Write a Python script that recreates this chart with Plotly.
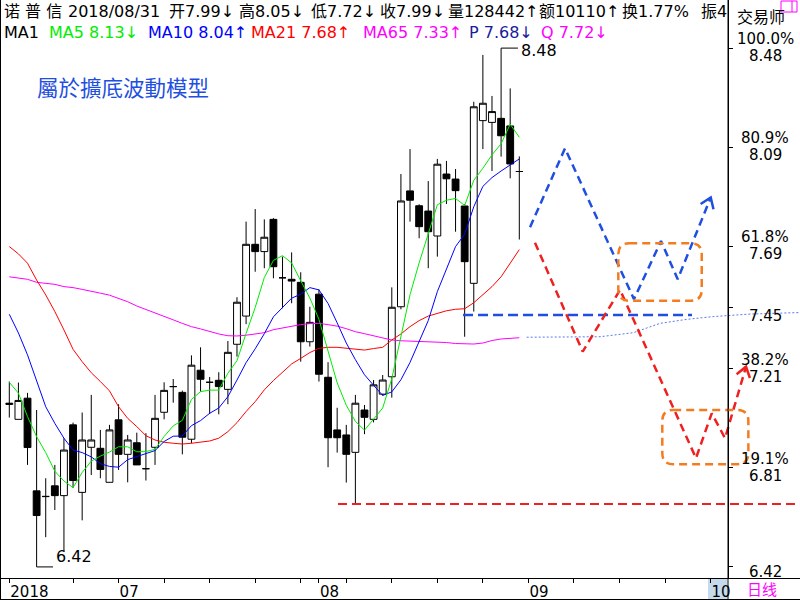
import plotly.graph_objects as go

# ---------------- data ----------------
idx = list(range(57))  # trading days 2018-06-13 .. 2018-08-31
opens = [7.065, 7.006, 7.090, 6.722, 6.699, 6.742, 6.703, 6.984, 6.716, 6.895,
         6.891, 6.756, 7.004, 6.867, 6.913, 6.810, 6.895, 7.034, 7.136, 7.113,
         6.927, 7.201, 7.153, 7.161, 7.125, 7.304, 7.416, 7.701, 7.672, 7.800,
         7.568, 7.562, 7.550, 7.314, 7.503, 7.173, 6.964, 6.944, 6.875, 7.043,
         7.006, 7.106, 7.175, 7.453, 7.913, 7.854, 7.833, 7.734, 7.980, 7.960,
         7.853, 7.546, 8.192, 8.185, 8.201, 8.171, 7.990]
highs = [7.156, 7.152, 7.111, 7.043, 6.772, 6.825, 6.931, 6.993, 7.033, 7.103,
         6.964, 6.984, 7.066, 6.944, 6.953, 6.951, 7.103, 7.153, 7.166, 7.120,
         7.260, 7.292, 7.174, 7.193, 7.317, 7.491, 7.791, 7.841, 7.800, 7.805,
         7.652, 7.669, 7.590, 7.453, 7.522, 7.233, 7.052, 6.984, 7.103, 7.063,
         7.162, 7.182, 7.530, 7.980, 8.079, 7.860, 7.952, 8.040, 8.032, 8.000,
         7.860, 8.267, 8.453, 8.290, 8.480, 8.320, 8.050]
lows = [7.013, 7.006, 6.825, 6.420, 6.538, 6.646, 6.480, 6.734, 6.605, 6.785,
        6.772, 6.756, 6.805, 6.756, 6.825, 6.763, 6.825, 7.006, 7.072, 6.867,
        6.911, 7.116, 7.027, 7.026, 7.066, 7.255, 7.384, 7.592, 7.606, 7.566,
        7.447, 7.467, 7.235, 7.295, 7.156, 6.816, 6.874, 6.755, 6.670, 6.947,
        6.994, 7.100, 7.092, 7.443, 7.791, 7.725, 7.606, 7.652, 7.861, 7.751,
        7.334, 7.434, 8.079, 7.992, 8.049, 7.963, 7.720]
closes = [7.070, 7.081, 6.894, 6.624, 6.700, 6.703, 6.884, 6.763, 6.924, 6.924,
          6.807, 6.964, 6.867, 6.924, 6.825, 6.810, 7.010, 7.121, 7.136, 6.935,
          7.221, 7.165, 7.153, 7.136, 7.272, 7.471, 7.701, 7.672, 7.729, 7.612,
          7.568, 7.555, 7.314, 7.391, 7.185, 6.933, 6.933, 6.867, 7.070, 7.014,
          7.143, 7.162, 7.451, 7.873, 7.876, 7.771, 7.751, 8.019, 7.961, 7.914,
          7.632, 8.247, 8.261, 8.228, 8.132, 8.020, 7.990]

ma5 = [7.153, 7.110, 7.017, 6.937, 6.874, 6.800, 6.761, 6.735, 6.795, 6.840,
       6.860, 6.876, 6.897, 6.897, 6.877, 6.878, 6.887, 6.938, 6.980, 7.002,
       7.085, 7.116, 7.122, 7.122, 7.189, 7.239, 7.347, 7.450, 7.569, 7.637,
       7.656, 7.627, 7.556, 7.488, 7.403, 7.276, 7.151, 7.062, 6.998, 6.963,
       7.005, 7.051, 7.168, 7.329, 7.501, 7.627, 7.744, 7.858, 7.876, 7.883,
       7.855, 7.955, 8.003, 8.056, 8.100, 8.178, 8.126]
ma10 = [7.423, 7.349, 7.262, 7.162, 7.056, 6.990, 6.931, 6.884, 6.874, 6.857,
        6.830, 6.819, 6.816, 6.846, 6.859, 6.869, 6.882, 6.918, 6.939, 6.940,
        6.981, 7.001, 7.030, 7.051, 7.096, 7.162, 7.231, 7.286, 7.346, 7.413,
        7.448, 7.487, 7.503, 7.529, 7.520, 7.466, 7.389, 7.309, 7.243, 7.183,
        7.141, 7.101, 7.115, 7.163, 7.232, 7.316, 7.398, 7.513, 7.602, 7.692,
        7.741, 7.850, 7.931, 7.966, 7.992, 8.017, 8.040]
ma21 = [7.692, 7.663, 7.626, 7.559, 7.500, 7.434, 7.361, 7.284, 7.235, 7.191,
        7.156, 7.119, 7.056, 7.010, 6.977, 6.941, 6.924, 6.915, 6.911, 6.908,
        6.911, 6.915, 6.920, 6.931, 6.957, 6.993, 7.037, 7.076, 7.123, 7.160,
        7.195, 7.226, 7.248, 7.271, 7.288, 7.292, 7.292, 7.288, 7.284, 7.281,
        7.287, 7.292, 7.321, 7.345, 7.374, 7.398, 7.416, 7.427, 7.437, 7.443,
        7.445, 7.469, 7.500, 7.533, 7.572, 7.626, 7.680]
ma65 = [7.572, 7.568, 7.562, 7.550, 7.546, 7.542, 7.533, 7.529, 7.522, 7.513,
        7.507, 7.499, 7.487, 7.473, 7.456, 7.443, 7.430, 7.414, 7.401, 7.387,
        7.374, 7.365, 7.354, 7.345, 7.338, 7.337, 7.340, 7.345, 7.350, 7.362,
        7.369, 7.377, 7.382, 7.386, 7.387, 7.382, 7.376, 7.366, 7.354, 7.346,
        7.337, 7.328, 7.321, 7.318, 7.317, 7.316, 7.315, 7.314, 7.311, 7.307,
        7.305, 7.305, 7.309, 7.319, 7.325, 7.329, 7.330]

# forecast of MA65 (thin dotted line to the right)
ma65_fc_x = [56.81, 63.03, 64.86, 68.52, 71.45, 74.38, 77.30, 81.33, 86.82]
ma65_fc_y = [7.332, 7.332, 7.334, 7.350, 7.387, 7.403, 7.414, 7.424, 7.430]

# hand-drawn scenario paths (index, price)
blue_path_x = [57.18, 61.02, 68.59, 71.56, 73.39, 77.02]
blue_path_y = [7.769, 8.082, 7.483, 7.714, 7.562, 7.887]
blue_head_x = [75.91, 77.02, 77.32]
blue_head_y = [7.861, 7.887, 7.840]
red_path_x = [57.72, 62.96, 67.06, 75.40, 77.13, 78.59, 80.89]
red_path_y = [7.707, 7.275, 7.520, 6.852, 7.030, 6.931, 7.215]
red_head_x = [79.86, 80.89, 81.32]
red_head_y = [7.185, 7.215, 7.170]
support_blue = 7.42   # from day 50 to ~day 75
support_blue_x = [49.82, 74.96]
support_red = 6.67    # from day 36 to the edge
support_red_x = [36.09, 86.82]
boxes = [(66.87, 76.03, 7.477, 7.705), (71.70, 81.15, 6.828, 7.043)]

# axis ticks
x_tick_vals = [0, 7, 12, 17, 22, 27, 32, 34, 37, 42, 47, 52, 57, 62, 67, 72, 77]
x_tick_text = ["2018", "", "07", "", "", "", "", "08", "", "", "", "", "09", "", "", "", "10"]
fib_low, fib_high = 6.42, 8.48
fib_pcts = [100.0, 80.9, 61.8, 50.0, 38.2, 19.1, 0.0]
fib_show_pct = [True, True, True, False, True, True, False]

# ---------------- figure ----------------
W, H, BM = 800, 600, 22
PH = H - BM
X_RANGE = [-1.021, 86.82]
Y_RANGE = [6.376, 8.671]
FONT = "DejaVu Sans, Noto Sans CJK SC, sans-serif"

def fx(px):
    return px / W

def fy(py):
    return (PH - py) / PH

fig = go.Figure()

fig.add_trace(go.Candlestick(
    x=idx, open=opens, high=highs, low=lows, close=closes,
    increasing=dict(line=dict(color="black", width=1), fillcolor="white"),
    decreasing=dict(line=dict(color="black", width=1), fillcolor="black"),
    whiskerwidth=0, hoverinfo="skip", showlegend=False))

for vals, col in [(ma65, "#ff00ff"), (ma21, "#ff0000"), (ma10, "#0000ff"), (ma5, "#00ee00")]:
    fig.add_trace(go.Scatter(x=idx, y=vals, mode="lines",
                             line=dict(color=col, width=1), hoverinfo="skip", showlegend=False))

fig.add_trace(go.Scatter(x=ma65_fc_x, y=ma65_fc_y, mode="lines",
                         line=dict(color="#5a78f0", width=1, dash="2px,2px"),
                         hoverinfo="skip", showlegend=False))

# support lines
fig.add_trace(go.Scatter(x=support_blue_x, y=[support_blue] * 2, mode="lines",
                         line=dict(color="#1f4fe0", width=2.5, dash="10px,5px"),
                         hoverinfo="skip", showlegend=False))
fig.add_trace(go.Scatter(x=support_red_x, y=[support_red] * 2, mode="lines",
                         line=dict(color="#ee2020", width=2, dash="9px,5px"),
                         hoverinfo="skip", showlegend=False))

# scenario paths
for px_, py_, col in [(blue_path_x, blue_path_y, "#1f4fe0"), (red_path_x, red_path_y, "#ee2020")]:
    fig.add_trace(go.Scatter(x=px_, y=py_, mode="lines",
                             line=dict(color=col, width=2.5, dash="8px,5px"),
                             hoverinfo="skip", showlegend=False))
for px_, py_, col in [(blue_head_x, blue_head_y, "#1f4fe0"), (red_head_x, red_head_y, "#ee2020")]:
    fig.add_trace(go.Scatter(x=px_, y=py_, mode="lines",
                             line=dict(color=col, width=2.5),
                             hoverinfo="skip", showlegend=False))

# high / low markers
i_low = lows.index(min(lows))
i_high = highs.index(max(highs))
fig.add_trace(go.Scatter(x=[i_low, i_low + 1.8], y=[min(lows)] * 2, mode="lines",
                         line=dict(color="black", width=1), hoverinfo="skip", showlegend=False))
fig.add_trace(go.Scatter(x=[i_high, i_high + 1.85], y=[max(highs)] * 2, mode="lines",
                         line=dict(color="black", width=1), hoverinfo="skip", showlegend=False))

shapes = []
rx, ry = 1.2, 0.044
for x0, x1, y0, y1 in boxes:
    path = (f"M {x0+rx},{y1} L {x1-rx},{y1} Q {x1},{y1} {x1},{y1-ry} "
            f"L {x1},{y0+ry} Q {x1},{y0} {x1-rx},{y0} L {x0+rx},{y0} "
            f"Q {x0},{y0} {x0},{y0+ry} L {x0},{y1-ry} Q {x0},{y1} {x0+rx},{y1} Z")
    shapes.append(dict(type="path", path=path, xref="x", yref="y",
                       line=dict(color="#f47c20", width=2.5, dash="8px,5px")))

# frame lines
shapes += [
    dict(type="line", xref="paper", yref="paper", x0=0.5 / W, x1=0.5 / W, y0=fy(H), y1=1.0,
         line=dict(color="black", width=1)),
    dict(type="line", xref="paper", yref="paper", x0=0, x1=1, y0=fy(599.5), y1=fy(599.5),
         line=dict(color="black", width=1)),
    dict(type="line", xref="paper", yref="paper", x0=fx(728), x1=fx(728), y0=fy(H), y1=1.0,
         line=dict(color="black", width=1)),
    dict(type="rect", xref="x", yref="paper", x0=76.72, x1=78.81, y0=fy(599), y1=fy(579),
         fillcolor="#c6daee", line=dict(width=0), layer="below"),
    dict(type="rect", xref="paper", yref="paper", x0=fx(781), x1=fx(797), y0=fy(12), y1=fy(1),
         line=dict(color="#ff00ff", width=1)),
    dict(type="line", xref="paper", yref="paper", x0=fx(792), x1=fx(792), y0=fy(12), y1=fy(1),
         line=dict(color="#ff00ff", width=1)),
]

ann = []

def text(x, y, s, color="black", size=16, xanchor="left", yanchor="middle", xref="paper",
         yref="paper", yshift=0, font=FONT, bg=None):
    d = dict(x=x, y=y, xref=xref, yref=yref, text=s, showarrow=False, xanchor=xanchor,
             yanchor=yanchor, yshift=yshift, font=dict(family=font, size=size, color=color),
             borderpad=0)
    if bg:
        d["bgcolor"] = bg
    ann.append(d)

# header row 1
o, h, l, c = opens[-1], highs[-1], lows[-1], closes[-1]
row1 = [("诺 普 信", 3), ("2018/08/31", 67), (f"开{o:.2f}↓", 168), (f"高{h:.2f}↓", 238),
        (f"低{l:.2f}↓", 310), (f"收{c:.2f}↓", 379), ("量128442↑", 447), ("额10110↑", 538),
        ("换1.77%", 621), ("振4", 700)]
for s, x in row1:
    text(fx(x), fy(12), s)

row2 = [("MA1", 3, "black"), (f"MA5 {ma5[-1]:.2f}↓", 48, "#00ee00"),
        (f"MA10 {ma10[-1]:.2f}↑", 147, "#0000ff"), (f"MA21 {ma21[-1]:.2f}↑", 250, "#ff0000"),
        (f"MA65 {ma65[-1]:.2f}↑", 362, "#ff00ff"), ("P 7.68↓", 468, "#1a1aa0"),
        ("Q 7.72↓", 540, "#ff00ff")]
for s, x, col in row2:
    text(fx(x), fy(33), s, color=col)

text(fx(761), fy(17), "交易师", xanchor="center")
text(fx(762), fy(590), "日线", color="#ff00ff", xanchor="center", size=15)
text(fx(36), fy(87), "屬於擴底波動模型", color="#1f4fe0", size=21.5,
     font="Noto Sans CJK TC, Noto Sans CJK SC, sans-serif")

# right axis fibonacci labels
fib_vals = []
for pct, show in zip(fib_pcts, fib_show_pct):
    v = fib_low + (fib_high - fib_low) * pct / 100.0
    fib_vals.append(v)
    if show:
        text(fx(765), v, f"{pct:.1f}%", xanchor="center", yref="y", yshift=9, size=15)
    shift = -8 if pct > 0 else -5
    text(fx(765), v, f"{v:.2f}", xanchor="center", yref="y", yshift=shift, size=15)

# high/low value labels
text(i_low + 2.05, min(lows), f"{min(lows):.2f}", xref="x", yref="y", yanchor="bottom", yshift=0)
text(i_high + 2.1, max(highs), f"{max(highs):.2f}", xref="x", yref="y", yshift=-2)

fig.update_layout(
    width=W, height=H, autosize=False,
    margin=dict(l=0, r=0, t=0, b=BM, pad=0),
    paper_bgcolor="white", plot_bgcolor="white",
    showlegend=False, boxgap=0.25, boxgroupgap=0,
    shapes=shapes, annotations=ann,
    font=dict(family=FONT, size=15, color="black"),
    xaxis=dict(range=X_RANGE, domain=[0, 1], showgrid=False, zeroline=False,
               showline=True, linecolor="black", linewidth=1,
               ticks="outside", ticklen=4, tickcolor="black", tickwidth=1,
               tickmode="array", tickvals=x_tick_vals, ticktext=x_tick_text,
               ticklabelposition="outside right",
               tickfont=dict(family=FONT, size=15, color="black"),
               rangeslider=dict(visible=False), fixedrange=True),
    yaxis=dict(range=Y_RANGE, domain=[0, 1], anchor="free", position=728 / W, side="right",
               showgrid=False, zeroline=False, showline=True, linecolor="black", linewidth=1,
               ticks="outside", ticklen=4, tickcolor="black", tickmode="array",
               tickvals=fib_vals, showticklabels=False, fixedrange=True),
)

fig.write_html("out.html", config={"displayModeBar": False},
               post_script="document.body.style.margin='0';document.body.style.padding='0';"
                           "document.body.style.overflow='hidden';")
